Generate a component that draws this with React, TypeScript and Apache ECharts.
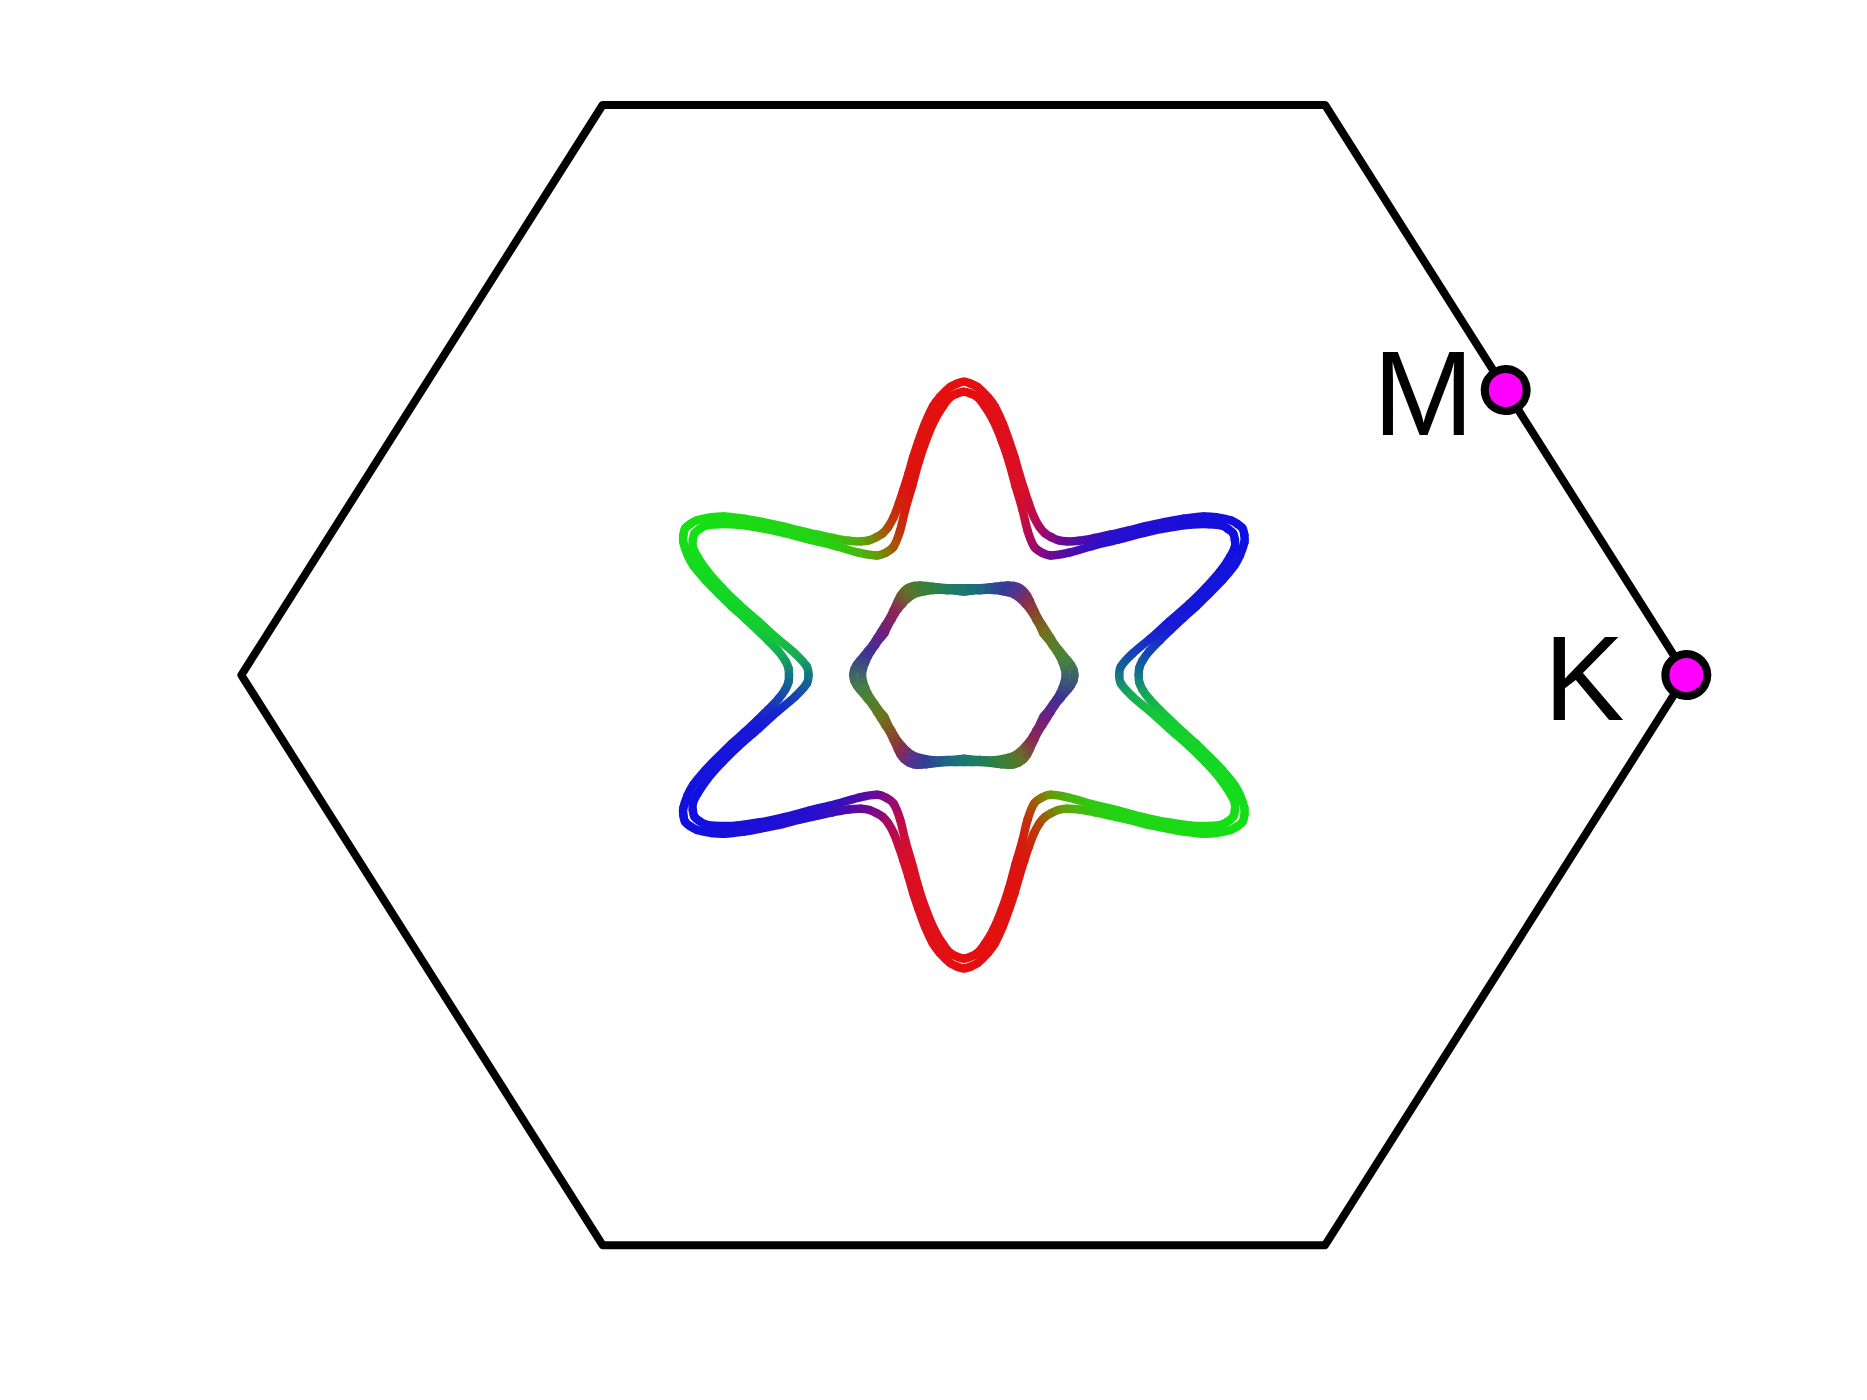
import React, { useEffect, useRef } from "react";
import * as echarts from "echarts";

// Brillouin-zone boundary (units of |Gamma-K|)
const BZ_X = [1, 0.5, -0.5, -1, -0.5, 0.5, 1];
const BZ_Y = [0, 0.866, 0.866, 0, -0.866, -0.866, 0];

// High-symmetry points
const POINT_LABELS = ["M", "K"];
const POINT_X = [0.75, 1];
const POINT_Y = [0.433, 0];

// Star-shaped contour pair: radius vs angular offset from a lobe tip (deg), one 30deg sector
const STAR_TIP_START = 30;
const STAR_OUTER_PHI = [0, 1.25, 2.5, 4.5, 6, 8, 10, 12, 14, 16.5, 19, 22, 25, 27.5, 30];
const STAR_OUTER_R = [0.4455, 0.4428, 0.4378, 0.4235, 0.41, 0.386, 0.361, 0.338, 0.316, 0.294, 0.276, 0.259, 0.248, 0.243, 0.242];
const STAR_INNER_PHI = [0, 1.25, 2.5, 4, 6, 8.4, 10.9, 14, 17.9, 22, 26.5, 30];
const STAR_INNER_R = [0.4305, 0.4278, 0.423, 0.41, 0.389, 0.36, 0.33, 0.296, 0.264, 0.236, 0.218, 0.215];

// Central hexagonal contour pair: radius vs angular offset from a vertex (deg)
const HEX_VERTEX_START = 0;
const HEX_OUTER_PHI = [0, 3, 6, 9, 12, 15, 20, 25, 30];
const HEX_OUTER_R = [0.153, 0.152, 0.149, 0.145, 0.141, 0.138, 0.134, 0.1325, 0.132];
const HEX_INNER_PHI = [0, 4, 8, 12, 16, 20, 25, 30];
const HEX_INNER_R = [0.141, 0.14, 0.138, 0.136, 0.1335, 0.131, 0.129, 0.127];

// Colour texture vs polar angle (period 180deg)
const STAR_COLOR_ANGLES = [0, 6, 14, 30, 46, 54, 60, 66, 74, 90, 106, 114, 120, 126, 134, 150, 166, 174, 180];
const STAR_COLORS = [
  [20, 120, 130], [20, 80, 170], [25, 25, 215], [15, 15, 225], [40, 15, 205], [90, 10, 160],
  [130, 10, 130], [175, 10, 90], [215, 15, 40], [230, 15, 15], [220, 20, 15], [185, 60, 10],
  [135, 120, 5], [80, 175, 10], [35, 210, 20], [20, 225, 20], [20, 205, 50], [20, 165, 90],
  [20, 120, 130],
];
const HEX_COLOR_ANGLES = [0, 8, 15, 30, 45, 53, 60, 68, 79, 90, 100, 113, 123, 134, 151, 167, 180];
const HEX_COLORS = [
  [60, 100, 105], [70, 125, 70], [75, 130, 50], [110, 115, 30], [135, 70, 45], [135, 45, 80],
  [90, 50, 140], [50, 60, 150], [30, 100, 130], [25, 120, 115], [30, 125, 95], [55, 130, 55],
  [100, 110, 40], [140, 40, 80], [110, 30, 130], [60, 50, 150], [60, 100, 105],
];

type Pt = [number, number, number];

function polar(deg: number, r: number): Pt {
  const a = (deg * Math.PI) / 180;
  return [r * Math.cos(a), r * Math.sin(a), deg];
}

function buildContour(phi: number[], r: number[], start: number): Pt[] {
  const pts: Pt[] = [];
  for (let s = 0; s < 12; s++) {
    const base = start + 30 * s;
    if (s % 2 === 0) {
      for (let i = 0; i < phi.length - 1; i++) pts.push(polar(base + phi[i], r[i]));
    } else {
      for (let i = phi.length - 1; i > 0; i--) pts.push(polar(base + 30 - phi[i], r[i]));
    }
  }
  return pts;
}

function colorAt(deg: number, angles: number[], colors: number[][]): string {
  const t = ((deg % 180) + 180) % 180;
  let k = 0;
  while (k < angles.length - 2 && t > angles[k + 1]) k++;
  const f = (t - angles[k]) / (angles[k + 1] - angles[k]);
  const c = colors[k].map((v, j) => Math.round(v + (colors[k + 1][j] - v) * f));
  return `rgb(${c[0]},${c[1]},${c[2]})`;
}

function unit(a: number[], b: number[]) {
  const dx = b[0] - a[0], dy = b[1] - a[1];
  const l = Math.hypot(dx, dy) || 1;
  return [dx / l, dy / l];
}

function contourSeries(pts: Pt[], angles: number[], colors: number[][], width: number) {
  const n = pts.length;
  const data = pts.map((p, i) => {
    const q = pts[(i + 1) % n];
    return [p[0], p[1], q[0], q[1]];
  });
  return {
    type: "custom",
    coordinateSystem: "cartesian2d",
    silent: true,
    z: 3,
    data,
    encode: { x: [0, 2], y: [1, 3] },
    renderItem: (params: any, api: any) => {
      const i = params.dataIndex;
      const c = (k: number) => {
        const p = pts[(k + n) % n];
        return api.coord([p[0], p[1]]);
      };
      const p0 = c(i - 1), p1 = c(i), p2 = c(i + 1), p3 = c(i + 2);
      const d = Math.hypot(p2[0] - p1[0], p2[1] - p1[1]) / 3;
      const t1 = unit(p0, p2), t2 = unit(p1, p3);
      const c1 = colorAt(pts[i][2], angles, colors);
      const c2 = colorAt(pts[(i + 1) % n][2], angles, colors);
      return {
        type: "bezierCurve",
        shape: {
          x1: p1[0], y1: p1[1], x2: p2[0], y2: p2[1],
          cpx1: p1[0] + t1[0] * d, cpy1: p1[1] + t1[1] * d,
          cpx2: p2[0] - t2[0] * d, cpy2: p2[1] - t2[1] * d,
        },
        style: {
          fill: "none",
          stroke: new echarts.graphic.LinearGradient(
            p1[0], p1[1], p2[0], p2[1],
            [{ offset: 0, color: c1 }, { offset: 1, color: c2 }],
            true
          ),
          lineWidth: width,
          lineCap: "round",
        },
      };
    },
  };
}

export default function App() {
  const ref = useRef<HTMLDivElement>(null);
  useEffect(() => {
    if (!ref.current) return;
    const chart = echarts.init(ref.current, null, { renderer: "svg" });
    const cx = 965.45, cy = 675.1, ux = 723.8, uy = 658.3;
    const xMin = -1.25, xMax = 1.25, yMin = -1, yMax = 1;

    const starOuter = buildContour(STAR_OUTER_PHI, STAR_OUTER_R, STAR_TIP_START);
    const starInner = buildContour(STAR_INNER_PHI, STAR_INNER_R, STAR_TIP_START);
    const hexOuter = buildContour(HEX_OUTER_PHI, HEX_OUTER_R, HEX_VERTEX_START);
    const hexInner = buildContour(HEX_INNER_PHI, HEX_INNER_R, HEX_VERTEX_START);

    const labelDist = [7, 37];

    chart.setOption({
      animation: false,
      backgroundColor: "#ffffff",
      grid: {
        left: cx + xMin * ux,
        top: cy - yMax * uy,
        width: (xMax - xMin) * ux,
        height: (yMax - yMin) * uy,
      },
      xAxis: { type: "value", min: xMin, max: xMax, show: false },
      yAxis: { type: "value", min: yMin, max: yMax, show: false },
      series: [
        {
          type: "line",
          data: BZ_X.map((x, i) => [x, BZ_Y[i]]),
          symbol: "none",
          silent: true,
          z: 2,
          lineStyle: { color: "#000000", width: 8, join: "round", cap: "round" },
        },
        contourSeries(starOuter, STAR_COLOR_ANGLES, STAR_COLORS, 8.5),
        contourSeries(starInner, STAR_COLOR_ANGLES, STAR_COLORS, 8.5),
        contourSeries(hexOuter, HEX_COLOR_ANGLES, HEX_COLORS, 8.5),
        contourSeries(hexInner, HEX_COLOR_ANGLES, HEX_COLORS, 8.5),
        {
          type: "scatter",
          z: 10,
          symbol: "circle",
          symbolSize: 42,
          itemStyle: { color: "#ff00ff", borderColor: "#000000", borderWidth: 8, opacity: 1 },
          data: POINT_LABELS.map((name, i) => ({
            name,
            value: [POINT_X[i], POINT_Y[i]],
            label: {
              show: true,
              formatter: name,
              position: "left",
              distance: labelDist[i],
              offset: [0, 2.5],
              color: "#000000",
              fontFamily: "Liberation Sans",
              fontSize: 121,
            },
          })),
        },
      ],
    });
    return () => chart.dispose();
  }, []);
  return (
    <div
      ref={ref}
      style={{ position: "absolute", left: 0, top: 0, width: 1867, height: 1400, background: "#fff" }}
    />
  );
}
